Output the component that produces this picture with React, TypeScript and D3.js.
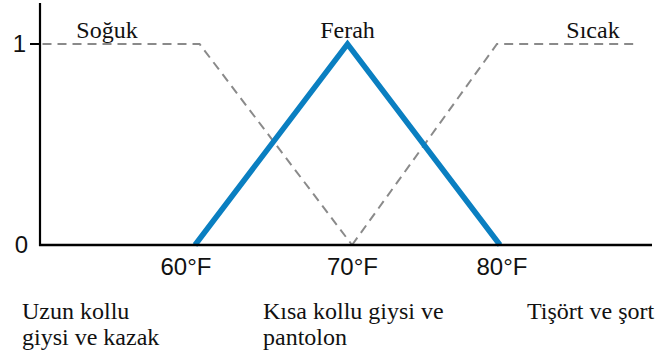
import React from "react";
import * as d3 from "d3";

// Temperature ticks (°F) and membership levels
const tempTicks = [60, 70, 80];
const tempTickLabels = ["60°F", "70°F", "80°F"];
const levelTicks = [0, 1];

// Membership functions: [temperature °F, membership]
const coldSet: [number, number][] = [
  [50, 1],
  [60.3, 1],
  [70.3, 0],
];
const comfortSet: [number, number][] = [
  [60, 0],
  [70, 1],
  [80, 0],
];
const hotSet: [number, number][] = [
  [70.3, 0],
  [79.8, 1],
  [88.8, 1],
];

const setNames = ["Soğuk", "Ferah", "Sıcak"];
const clothing = [
  ["Uzun kollu", "giysi ve kazak"],
  ["Kısa kollu giysi ve", "pantolon"],
  ["Tişört ve şort"],
];

const W = 662;
const H = 363;
const SERIF = "Liberation Serif, DejaVu Serif, serif";
const SANS = "Liberation Sans, Arial, sans-serif";

export default function App() {
  const x = d3.scaleLinear().domain([60, 80]).range([195, 500]);
  const y = d3.scaleLinear().domain([0, 1]).range([245, 44]);
  const line = d3
    .line<[number, number]>()
    .x((d) => x(d[0]))
    .y((d) => y(d[1]));

  const axisLeft = 40;
  const axisRight = 652;

  const setLabelX = [107, x(70), 593];
  const clothingX = [22, 263, 527];

  const serifStyle = { fontFamily: SERIF, fontSize: 24 };
  const sansStyle = { fontFamily: SANS, fontSize: 24 };

  return (
    <svg
      width={W}
      height={H}
      style={{ position: "absolute", left: 0, top: 0, background: "#fff" }}
    >
      {/* dashed cold / hot sets */}
      {[coldSet, hotSet].map((s, i) => (
        <path
          key={i}
          d={line(s) ?? ""}
          fill="none"
          stroke="#8a8a8a"
          strokeWidth={2}
          strokeDasharray="9 6"
        />
      ))}

      {/* comfortable set */}
      <path
        d={line(comfortSet) ?? ""}
        fill="none"
        stroke="#0a7fc1"
        strokeWidth={5.5}
        strokeLinejoin="miter"
      />

      {/* axes */}
      <line x1={axisLeft} x2={axisLeft} y1={3} y2={y(0) + 1} stroke="#000" strokeWidth={2.2} />
      <line x1={axisLeft - 1} x2={axisRight} y1={y(0)} y2={y(0)} stroke="#000" strokeWidth={2.4} />
      {levelTicks.map((t) => (
        <g key={t}>
          {t === 1 && (
            <line x1={30} x2={axisLeft} y1={y(t)} y2={y(t)} stroke="#000" strokeWidth={2} />
          )}
          <text
            x={t === 1 ? 26 : 28}
            y={y(t)}
            dy="0.35em"
            textAnchor="end"
            style={sansStyle}
            fill="#111"
          >
            {t}
          </text>
        </g>
      ))}
      {tempTicks.map((t, i) => (
        <text
          key={t}
          x={x(t) - (i === 0 ? 9 : i === 1 ? -5 : -2)}
          y={275}
          textAnchor="middle"
          style={sansStyle}
          fill="#111"
        >
          {tempTickLabels[i]}
        </text>
      ))}

      {/* set names */}
      {setNames.map((n, i) => (
        <text
          key={n}
          x={setLabelX[i]}
          y={38}
          textAnchor="middle"
          style={serifStyle}
          fill="#111"
        >
          {n}
        </text>
      ))}

      {/* clothing suggestions */}
      {clothing.map((lines, i) => (
        <text key={i} x={clothingX[i]} y={319} style={serifStyle} fill="#111">
          {lines.map((l, j) => (
            <tspan key={j} x={clothingX[i]} dy={j === 0 ? 0 : 26}>
              {l}
            </tspan>
          ))}
        </text>
      ))}
    </svg>
  );
}
